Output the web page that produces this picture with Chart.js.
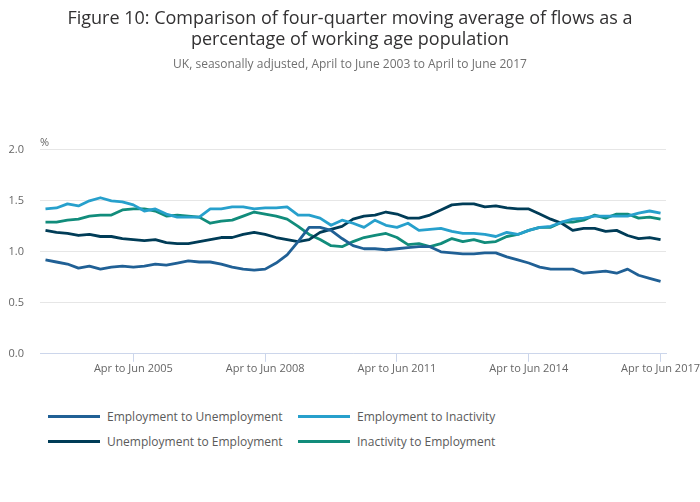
<!DOCTYPE html>
<html>
<head>
<meta charset="utf-8">
<script src="https://cdn.jsdelivr.net/npm/chart.js@4.4.1/dist/chart.umd.min.js"></script>
<style>
  body { margin: 0; background: #fff; font-family: "Open Sans", sans-serif; }
  #wrap { position: relative; width: 700px; height: 502px; }
  #box { position: absolute; left: 0; top: 0; width: 700px; height: 390px; }
  #legend {
    position: absolute; left: 48px; top: 407px;
    display: grid; grid-template-columns: 250px 250px; row-gap: 7px;
    font-size: 12px; color: #5a5a5a;
  }
  #legend div { display: flex; align-items: center; height: 18px; }
  #legend span.ln { display: inline-block; width: 52px; height: 3px; margin-right: 7px; }
</style>
</head>
<body>
<div id="wrap">
  <div id="box"><canvas id="chart"></canvas></div>
  <div id="legend"></div>
</div>
<script>
// quarters Apr-Jun 2003 .. Apr-Jun 2017
const quarterNames = ["Jan to Mar", "Apr to Jun", "Jul to Sep", "Oct to Dec"];
const quarters = [];
for (let y = 2003; y <= 2017; y++) {
  for (let q = 0; q < 4; q++) {
    if (y === 2003 && q === 0) continue;
    if (y === 2017 && q > 1) continue;
    quarters.push(quarterNames[q] + " " + y);
  }
}

const tickLabels = ["Apr to Jun 2005", "Apr to Jun 2008", "Apr to Jun 2011", "Apr to Jun 2014", "Apr to Jun 2017"];

const seriesNames = ["Employment to Unemployment", "Employment to Inactivity", "Unemployment to Employment", "Inactivity to Employment"];
const seriesColors = ["#206095", "#27a0cc", "#003c57", "#118c7b"];

const empToUnemp = [0.92,0.90,0.88,0.84,0.86,0.83,0.85,0.86,0.85,0.86,0.88,0.87,0.89,0.91,0.90,
  0.90,0.88,0.85,0.83,0.82,0.83,0.89,0.97,1.10,1.24,1.24,1.21,1.13,1.06,
  1.03,1.03,1.02,1.03,1.04,1.05,1.05,1.00,0.99,0.98,0.98,0.99,0.99,0.95,
  0.92,0.89,0.85,0.83,0.83,0.83,0.79,0.80,0.81,0.79,0.83,0.77,0.74,0.71];
const empToInact = [1.42,1.43,1.47,1.45,1.50,1.53,1.50,1.49,1.46,1.40,1.42,1.37,1.34,1.34,1.34,
  1.42,1.42,1.44,1.44,1.42,1.43,1.43,1.44,1.36,1.36,1.33,1.26,1.31,1.28,
  1.24,1.31,1.26,1.24,1.28,1.21,1.22,1.23,1.20,1.18,1.18,1.17,1.15,1.19,
  1.17,1.21,1.24,1.25,1.29,1.32,1.33,1.35,1.35,1.35,1.35,1.38,1.40,1.38];
const unempToEmp = [1.21,1.19,1.18,1.16,1.17,1.15,1.15,1.13,1.12,1.11,1.12,1.09,1.08,1.08,1.10,
  1.12,1.14,1.14,1.17,1.19,1.17,1.14,1.12,1.10,1.12,1.19,1.22,1.25,1.32,
  1.35,1.36,1.39,1.37,1.33,1.33,1.36,1.41,1.46,1.47,1.47,1.44,1.45,1.43,
  1.42,1.42,1.37,1.32,1.28,1.21,1.23,1.23,1.20,1.21,1.16,1.13,1.14,1.12];
const inactToEmp = [1.29,1.29,1.31,1.32,1.35,1.36,1.36,1.41,1.42,1.42,1.40,1.35,1.36,1.35,1.34,
  1.28,1.30,1.31,1.35,1.39,1.37,1.35,1.32,1.25,1.17,1.12,1.06,1.05,1.10,
  1.14,1.16,1.18,1.14,1.07,1.08,1.05,1.08,1.13,1.10,1.12,1.09,1.10,1.15,
  1.17,1.21,1.24,1.24,1.29,1.29,1.31,1.36,1.33,1.37,1.37,1.33,1.34,1.32];

const allSeries = [empToUnemp, empToInact, unempToEmp, inactToEmp];

// ===== "%" unit label =====
const unitLabel = {
  id: "unitLabel",
  afterDraw(chart) {
    const ctx = chart.ctx;
    ctx.save();
    ctx.font = "11px 'Open Sans'";
    ctx.fillStyle = "#666";
    ctx.textAlign = "left";
    ctx.textBaseline = "bottom";
    ctx.fillText("%", chart.chartArea.left, chart.chartArea.top - 1);
    ctx.restore();
  }
};

new Chart(document.getElementById("chart"), {
  type: "line",
  data: {
    labels: quarters,
    datasets: allSeries.map((s, i) => ({
      label: seriesNames[i],
      data: s,
      borderColor: seriesColors[i],
      backgroundColor: seriesColors[i],
      borderWidth: 2.8,
      pointRadius: 0,
      tension: 0,
      borderJoinStyle: "round"
    }))
  },
  options: {
    responsive: true,
    maintainAspectRatio: false,
    animation: false,
    layout: { padding: { left: 0, right: 0, bottom: 15 } },
    plugins: {
      legend: { display: false },
      tooltip: { enabled: false },
      title: {
        display: true,
        text: ["Figure 10: Comparison of four-quarter moving average of flows as a", "percentage of working age population"],
        color: "#323132",
        font: { family: "'Open Sans'", size: 18, weight: "normal", lineHeight: 1.15 },
        padding: { top: 9, bottom: 7 }
      },
      subtitle: {
        display: true,
        text: "UK, seasonally adjusted, April to June 2003 to April to June 2017",
        color: "#707070",
        font: { family: "'Open Sans'", size: 12, lineHeight: 1.2 },
        padding: { top: 0, bottom: 78 }
      }
    },
    scales: {
      x: {
        offset: true,
        afterBuildTicks: axis => {
          axis.ticks = axis.ticks.filter(t => tickLabels.includes(quarters[t.value]));
        },
        ticks: {
          autoSkip: false,
          maxRotation: 0,
          padding: 0,
          color: "#666",
          font: { family: "'Open Sans'", size: 11 }
        },
        grid: { drawOnChartArea: false, drawTicks: true, tickLength: 8, color: "#ccd6eb" },
        border: { display: true, color: "#ccd6eb" }
      },
      y: {
        min: 0,
        max: 2,
        afterFit: axis => { axis.width = 40; },
        ticks: {
          stepSize: 0.5,
          padding: 16,
          color: "#666",
          font: { family: "'Open Sans'", size: 11 },
          callback: v => v.toFixed(1)
        },
        grid: { color: "#e6e6e6", drawTicks: false },
        border: { display: false }
      }
    }
  },
  plugins: [unitLabel]
});

// ===== LEGEND =====
const legendEl = document.getElementById("legend");
seriesNames.forEach((name, i) => {
  const d = document.createElement("div");
  d.innerHTML = `<span class="ln" style="background:${seriesColors[i]}"></span>${name}`;
  legendEl.appendChild(d);
});
</script>
</body>
</html>
